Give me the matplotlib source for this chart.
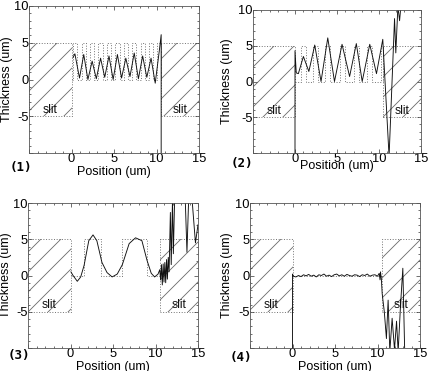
import matplotlib.pyplot as plt
import matplotlib.patches as mpatches
from matplotlib.ticker import MultipleLocator, FixedLocator, FixedFormatter

# ---- data -------------------------------------------------------------
slit_left = (-5.0, 0.0)
slit_right = (10.5, 15.0)
slit_half = 5.0
grating_height = 5.0

# grating pulses (rising edge, falling edge) for each case
pulses1 = [(0.2, 0.7), (1.19, 1.69), (2.18, 2.68), (3.17, 3.67), (4.16, 4.66),
           (5.15, 5.65), (6.14, 6.64), (7.13, 7.63), (8.12, 8.62), (9.11, 9.61),
           (10.1, 10.5)]
pulses2 = [(0.7, 1.3), (2.1, 2.7), (3.6, 4.2), (5.3, 5.9), (7.0, 7.6),
           (8.6, 9.2), (10.2, 10.5)]
pulses3 = [(1.6, 3.6), (6.1, 9.0)]
pulses4 = []

# measured thickness profiles
x1 = [0.18, 0.4, 0.94, 1.44, 1.93, 2.43, 2.92, 3.42, 3.91, 4.41, 4.9, 5.4,
      5.89, 6.39, 6.88, 7.38, 7.87, 8.37, 8.86, 9.36, 9.85, 10.35, 10.55, 10.55]
y1 = [3.0, 3.5, 0.2, 3.4, 0.0, 2.5, 0.1, 2.9, 0.3, 3.2, 0.0, 3.4,
      0.2, 2.9, 0.4, 3.6, 0.1, 3.2, 0.3, 2.9, -0.5, 4.1, 6.1, -10.5]

x2 = [0.0, 0.0, 0.15, 0.4, 1.0, 1.65, 2.35, 3.1, 3.9, 4.7, 5.6, 6.5, 7.3,
      8.0, 8.9, 9.7, 10.45, 11.2, 11.85, 12.0, 12.25, 12.45, 12.6]
y2 = [-10.5, 4.3, 1.2, 1.1, 3.5, 1.4, 5.1, 0.0, 6.1, 0.0, 5.2, 0.7, 5.3,
      0.0, 5.2, 1.1, 5.9, -10.5, 8.8, 4.0, 10.5, 8.5, 10.5]

x3 = [0.05, 0.3, 0.8, 1.2, 1.6, 2.15, 2.65, 3.1, 3.7, 4.3, 4.9, 5.5, 6.1,
      6.9, 7.65, 8.4, 9.0, 9.5, 9.9, 10.3, 10.5, 10.6, 10.7, 10.8, 10.9,
      11.0, 11.1, 11.2, 11.3, 11.4, 11.5, 11.6, 11.75, 11.85, 12.0, 12.1,
      12.25, 13.5, 13.7, 13.9, 14.3, 14.7, 15.0]
y3 = [0.5, 0.0, -0.8, -0.2, 1.4, 4.8, 5.6, 4.8, 1.8, 0.4, -0.2, 0.2, 1.5,
      4.4, 5.2, 4.8, 2.1, 0.3, -0.2, 0.2, 0.8, -0.6, 1.5, -1.3, 1.6,
      -0.9, 1.8, -1.0, 2.2, -0.5, 2.5, 0.5, 8.7, 1.5, 10.5, 3.0,
      10.5, 10.5, 3.2, 10.5, 10.5, 4.5, 7.0]

x4 = [0.0, 0.0, 0.1, 0.4, 0.7, 1.0, 1.3, 1.6, 1.9, 2.2, 2.5, 2.8, 3.1, 3.4,
      3.7, 4.0, 4.3, 4.6, 4.9, 5.2, 5.5, 5.8, 6.1, 6.4, 6.7, 7.0, 7.3, 7.6,
      7.9, 8.2, 8.5, 8.8, 9.1, 9.4, 9.7, 10.0, 10.2, 10.3, 10.35, 10.45,
      10.55, 10.8, 11.05, 11.25, 11.45, 11.72, 12.0, 12.24, 12.43, 12.7,
      12.98, 13.2]
y4 = [-10.5, 0.2, -0.1, -0.2, 0.0, -0.15, 0.1, -0.05, 0.15, -0.1, 0.05,
      -0.2, 0.1, 0.0, 0.2, -0.1, 0.05, -0.15, 0.1, 0.2, -0.05, 0.1, -0.1,
      0.15, 0.0, -0.1, 0.1, 0.05, -0.15, 0.1, 0.0, 0.2, -0.1, 0.05, 0.1,
      -0.1, 0.3, -0.6, 0.5, -0.4, -2.5, -5.0, -8.7, -3.4, -10.5, -5.9,
      -10.2, -6.3, -10.5, -4.3, 1.0, -10.5]

panels = [
    ('(1)', pulses1, x1, y1),
    ('(2)', pulses2, x2, y2),
    ('(3)', pulses3, x3, y3),
    ('(4)', pulses4, x4, y4),
]

# ---- layout (pixel boxes: left, right, top, bottom) --------------------
W, H = 428, 371
boxes = [(29, 199, 6, 153), (253, 421, 10, 153),
         (28, 198, 203, 348), (250, 420, 203, 348)]
tag_pos = [(21, 168), (242, 163), (19, 355), (241, 357)]
xlab_y = [172, 166, 367, 367]
ylab_x = [7, 227, 6, 227]

DPI = 60
plt.rcParams['font.family'] = ['Liberation Sans', 'DejaVu Sans']
plt.rcParams['font.size'] = 15
plt.rcParams['hatch.linewidth'] = 1.0

fig = plt.figure(figsize=(W / DPI, H / DPI), dpi=DPI)

grey = '#7a7a7a'
for (tag, pulses, xs, ys), (l, r, t, b), (tx, ty), xly, ylx in zip(
        panels, boxes, tag_pos, xlab_y, ylab_x):
    ax = fig.add_axes([l / W, 1 - b / H, (r - l) / W, (b - t) / H])
    ax.set_xlim(-5, 15)
    ax.set_ylim(-10, 10)

    # slits: hatched, dotted outline
    for x0, x1_ in (slit_left, slit_right):
        ax.add_patch(mpatches.Rectangle((x0, -slit_half), x1_ - x0, 2 * slit_half,
                                        facecolor='none', edgecolor='#6a6a6a',
                                        hatch='/', linewidth=0))
        ax.add_patch(mpatches.Rectangle((x0, -slit_half), x1_ - x0, 2 * slit_half,
                                        facecolor='none', edgecolor=grey,
                                        linestyle=':', linewidth=1.2))
        ax.text((x0 + x1_) / 2, -4.1, 'slit', ha='center', va='center',
                fontsize=14.5, color='#111111')

    # grating outline (dotted square wave)
    gx, gy = [slit_left[1]], [0.0]
    for up, down in pulses:
        gx += [up, up, down, down]
        gy += [0.0, grating_height, grating_height, 0.0]
    gx.append(slit_right[0])
    gy.append(0.0)
    ax.plot(gx, gy, linestyle=':', color=grey, linewidth=1.2)

    # measured profile
    ax.plot(xs, ys, color='#111111', linewidth=1.1)

    ax.xaxis.set_major_locator(FixedLocator([-5, 0, 5, 10, 15]))
    ax.xaxis.set_major_formatter(FixedFormatter(['', '0', '5', '10', '15']))
    ax.yaxis.set_major_locator(FixedLocator([-10, -5, 0, 5, 10]))
    ax.yaxis.set_major_formatter(FixedFormatter(['', '-5', '0', '5', '10']))
    ax.xaxis.set_minor_locator(MultipleLocator(1))
    ax.yaxis.set_minor_locator(MultipleLocator(1))
    ax.tick_params(which='both', direction='in', top=True, right=True,
                   color='#444444', width=0.9, pad=0.5, labelsize=15.5)
    ax.tick_params(which='major', length=5)
    ax.tick_params(which='minor', length=2.5)
    for s in ax.spines.values():
        s.set_color('#555555')
        s.set_linewidth(1.0)

    fig.text(((l + r) / 2) / W, 1 - xly / H, 'Position (um)', ha='center', va='center')
    fig.text(ylx / W, 1 - ((t + b) / 2) / H, 'Thickness (um)', ha='center',
             va='center', rotation=90)
    fig.text(tx / W, 1 - ty / H, tag, ha='center', va='center',
             family='DejaVu Sans Mono', fontweight='bold', fontsize=15)

fig.savefig('out.png', dpi=DPI)
